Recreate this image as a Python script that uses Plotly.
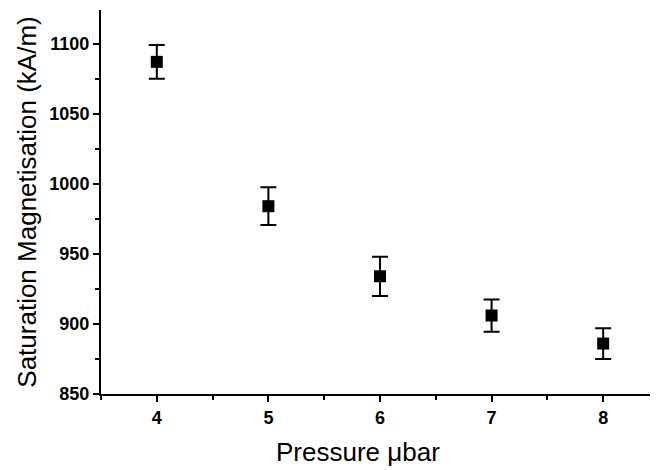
import plotly.graph_objects as go

pressure = [4, 5, 6, 7, 8]
magnetisation = [1087, 984, 934, 906, 886]
error = [12, 13.5, 14, 11.5, 11]

x_tickvals = [4, 5, 6, 7, 8]
y_tickvals = [850, 900, 950, 1000, 1050, 1100]

fig = go.Figure()
fig.add_trace(go.Scatter(
    x=pressure, y=magnetisation, mode="markers",
    marker=dict(symbol="square", size=12, color="black"),
    error_y=dict(type="data", array=error, visible=True, color="black", thickness=2, width=8),
    showlegend=False,
))

font = "Liberation Sans, Arial, sans-serif"
fig.update_layout(
    width=658, height=470,
    margin=dict(l=93, r=0, t=2, b=84),
    paper_bgcolor="white", plot_bgcolor="white",
    font=dict(family=font, color="black"),
    xaxis=dict(
        range=[3.5, 8.563], tickvals=x_tickvals, ticks="outside", ticklen=6, tickwidth=2,
        tickcolor="black", showline=True, linecolor="black", linewidth=2,
        showgrid=False, zeroline=False,
        tickfont=dict(family=font, size=18, color="black", weight="bold"),
        minor=dict(dtick=0.5, tick0=3.5, ticks="outside", ticklen=4, tickwidth=2, tickcolor="black", showgrid=False),
    ),
    yaxis=dict(
        range=[850, 1124], tickvals=y_tickvals, ticks="outside", ticklen=6, tickwidth=2,
        tickcolor="black", showline=True, linecolor="black", linewidth=2,
        showgrid=False, zeroline=False,
        tickfont=dict(family=font, size=18, color="black", weight="bold"),
        minor=dict(dtick=25, tick0=850, ticks="outside", ticklen=4, tickwidth=2, tickcolor="black", showgrid=False),
        title=dict(text="Saturation Magnetisation (kA/m)", font=dict(family=font, size=26, color="black"), standoff=5),
    ),
    annotations=[dict(
        text="Pressure \u03bcbar", xref="paper", yref="paper", x=(350 - 93) / 565, y=-(444 - 386) / 384,
        xanchor="center", yanchor="middle", showarrow=False,
        font=dict(family=font, size=26, color="black"),
    )],
)

fig.write_html("out.html")
